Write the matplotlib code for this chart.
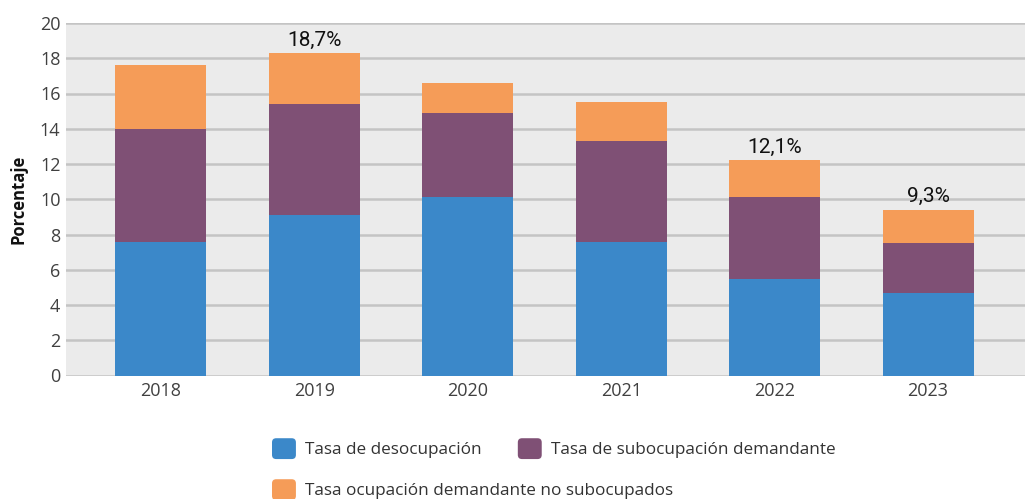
import matplotlib
matplotlib.use("Agg")
import matplotlib.pyplot as plt
from matplotlib.patches import FancyBboxPatch, Patch
from matplotlib.legend_handler import HandlerPatch
import numpy as np

years = ["2018", "2019", "2020", "2021", "2022", "2023"]
desocupacion = [7.6, 9.1, 10.1, 7.6, 5.5, 4.7]
subocupacion = [6.4, 6.3, 4.8, 5.7, 4.6, 2.8]
no_subocupados = [3.6, 2.9, 1.7, 2.2, 2.1, 1.9]
series_names = ["Tasa de desocupación",
                "Tasa de subocupación demandante",
                "Tasa ocupación demandante no subocupados"]
top_labels = {"2019": "18,7%", "2022": "12,1%", "2023": "9,3%"}

colors = ["#3b88c9", "#7f5075", "#f59c58"]

plt.rcParams["font.family"] = ["Open Sans", "DejaVu Sans"]


class RoundHandler(HandlerPatch):
    def create_artists(self, legend, orig_handle, xdescent, ydescent,
                       width, height, fontsize, trans):
        p = FancyBboxPatch((-xdescent, -ydescent - 2), width, height + 4,
                           boxstyle="round,pad=0,rounding_size=3",
                           facecolor=orig_handle.get_facecolor(),
                           edgecolor="none", transform=trans)
        return [p]


fig = plt.figure(figsize=(10.25, 4.99), dpi=100)
ax = fig.add_axes([66 / 1025, 1 - 375.5 / 499, 1 - 66 / 1025, (375.5 - 23) / 499])
ax.set_facecolor("#ebebeb")

x = np.arange(len(years))
w = 0.593
bottom = np.zeros(len(years))
for vals, col in zip([desocupacion, subocupacion, no_subocupados], colors):
    ax.bar(x, vals, w, bottom=bottom, color=col, zorder=3)
    bottom += np.array(vals)

for i, y in enumerate(years):
    if y in top_labels:
        ax.annotate(top_labels[y], (x[i], bottom[i]), xytext=(0, 2.5),
                    textcoords="offset points", ha="center", va="bottom",
                    fontsize=15, color="#111111",
                    family=["Liberation Sans Narrow", "DejaVu Sans Condensed", "Roboto"])

ax.set_ylim(0, 20)
ax.set_yticks(range(0, 21, 2))
ax.set_xlim(-0.619, 5.632)
ax.set_xticks(x)
ax.set_xticklabels(years)
ax.grid(axis="y", color="#c4c4c4", linewidth=1.8, zorder=0)
ax.set_axisbelow(True)
for s in ax.spines.values():
    s.set_visible(False)
ax.tick_params(length=0, labelsize=13, colors="#404040", pad=5)
ax.tick_params(axis="y", pad=4)
ax.set_ylabel("Porcentaje", fontsize=12, fontweight="bold", color="#111111", labelpad=9)

# legend: two rows, first row has two entries
handles = [Patch(facecolor=c) for c in colors]
leg_kw = dict(loc="upper left", frameon=False, fontsize=12.3, borderpad=0,
              borderaxespad=0, handlelength=1.4, handleheight=1.0,
              handletextpad=0.55, columnspacing=2.1, labelcolor="#333333",
              handler_map={Patch: RoundHandler()})
fig.legend(handles[:2], series_names[:2], ncol=2,
           bbox_to_anchor=(272 / 1025, (499 - 441) / 499), **leg_kw)
fig.legend(handles[2:], series_names[2:], ncol=1,
           bbox_to_anchor=(272 / 1025, (499 - 482) / 499), **leg_kw)

fig.savefig("out.png", dpi=100)
